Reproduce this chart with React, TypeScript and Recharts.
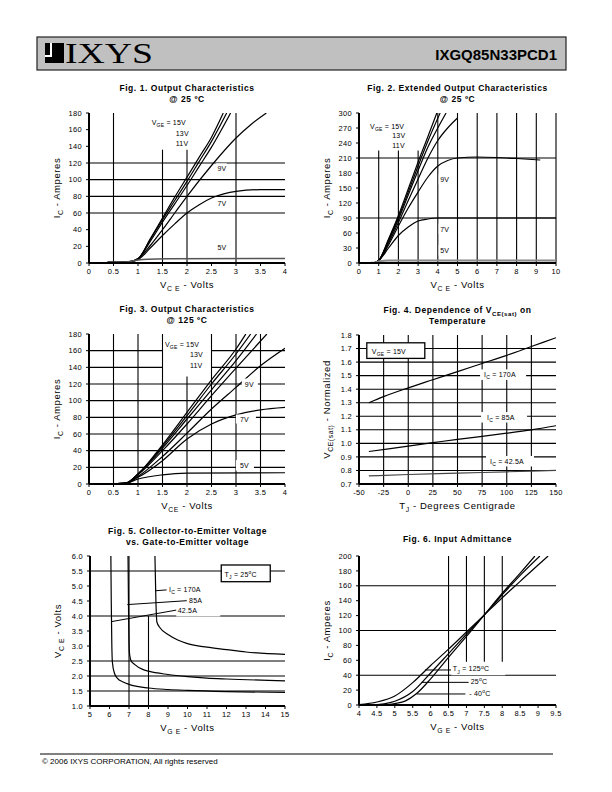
import React from "react";
import { LineChart, Line, XAxis, YAxis, ReferenceLine, ReferenceDot } from "recharts";

const FONT = "'Liberation Sans', Arial, Helvetica, sans-serif";

// ---- Fig. 1  Output characteristics @ 25 C ----
const f1X = [0, 0.5, 1, 1.5, 2, 2.5, 3, 3.5, 4];
const f1Y = [0, 20, 40, 60, 80, 100, 120, 140, 160, 180];
const f1_15V = [[0.38, 0.8], [0.8, 1.2], [1, 5], [1.25, 29], [1.5, 54], [1.75, 79], [2, 103], [2.25, 127], [2.5, 151], [2.74, 180]];
const f1_13V = [[0.38, 0.8], [0.8, 1.2], [1, 5], [1.25, 28], [1.5, 52], [1.75, 75], [2, 98], [2.25, 122], [2.5, 146], [2.81, 180]];
const f1_11V = [[0.38, 0.8], [0.8, 1.2], [1, 5], [1.25, 26], [1.5, 49], [1.75, 71], [2, 93], [2.25, 116], [2.5, 139], [2.89, 180]];
const f1_9V = [[0.38, 0.8], [0.8, 1.2], [1, 5], [1.25, 21], [1.5, 40], [1.75, 60], [2, 80], [2.5, 117], [3, 150], [3.3, 166], [3.62, 180]];
const f1_7V = [[0.38, 0.8], [0.8, 1.2], [1, 4], [1.25, 18], [1.5, 33], [1.75, 47], [2, 60], [2.25, 70], [2.5, 78], [2.75, 83], [3, 86], [3.5, 88], [4, 88]];
const f1_5V = [[0.38, 0.8], [0.8, 1.5], [1, 3.5], [1.2, 4.5], [1.6, 5], [4, 5.5]];

// ---- Fig. 2  Extended output characteristics @ 25 C ----
const f2X = [0, 1, 2, 3, 4, 5, 6, 7, 8, 9, 10];
const f2Y = [0, 30, 60, 90, 120, 150, 180, 210, 240, 270, 300];
const f2_15V = [[0.6, 0.5], [0.8, 1], [1, 5], [1.5, 48], [2, 95], [2.5, 148], [3, 202], [3.5, 253], [3.95, 300]];
const f2_13V = [[0.6, 0.5], [0.8, 1], [1, 5], [1.5, 46], [2, 91], [2.5, 142], [3, 194], [3.5, 244], [4.12, 300]];
const f2_11V = [[0.6, 0.5], [0.8, 1], [1, 5], [1.5, 44], [2, 87], [2.5, 136], [3, 185], [3.5, 232], [4, 270], [4.42, 300]];
const f2_10V = [[0.6, 0.5], [0.8, 1], [1, 5], [1.5, 40], [2, 81], [2.5, 125], [3, 168], [3.5, 210], [4, 245], [4.5, 270], [5, 290]];
const f2_9V = [[0.6, 0.5], [0.8, 1], [1, 5], [1.5, 36], [2, 74], [2.5, 110], [3, 142], [3.5, 172], [4, 194], [4.5, 205], [5, 210], [6, 212], [7, 211], [8, 209], [9.2, 206]];
const f2_7V = [[0.6, 0.5], [0.8, 1], [1, 5], [1.5, 30], [2, 55], [2.5, 72], [3, 84], [3.5, 88], [4, 90], [5, 90], [10, 90]];
const f2_5V = [[0.6, 0.5], [0.8, 1], [1, 3], [1.5, 5], [10, 5]];

// ---- Fig. 3  Output characteristics @ 125 C ----
const f3X = [0, 0.5, 1, 1.5, 2, 2.5, 3, 3.5, 4];
const f3Y = [0, 20, 40, 60, 80, 100, 120, 140, 160, 180];
const f3_15V = [[0.5, 0.3], [0.75, 1], [1, 12], [1.5, 47], [2, 86], [2.5, 125], [3, 162], [3.2, 180]];
const f3_13V = [[0.5, 0.3], [0.75, 1], [1, 12], [1.5, 45], [2, 82], [2.5, 120], [3, 156], [3.3, 180]];
const f3_11V = [[0.5, 0.3], [0.75, 1], [1, 12], [1.5, 43], [2, 78], [2.5, 113], [3, 148], [3.42, 180]];
const f3_10V = [[0.5, 0.3], [0.75, 1], [1, 11], [1.5, 40], [2, 72], [2.5, 106], [3, 139], [3.63, 180]];
const f3_9V = [[0.5, 0.3], [0.75, 1], [1, 9], [1.5, 33], [2, 61], [2.5, 90], [3, 116], [3.5, 142], [4, 163]];
const f3_7V = [[0.5, 0.3], [0.75, 1], [1, 8], [1.5, 28], [2, 54], [2.5, 72], [3, 83], [3.5, 89], [4, 92]];
const f3_5V = [[0.5, 0.3], [0.75, 1], [1, 6], [1.5, 11], [2, 13], [4, 13.5]];

// ---- Fig. 4  VCE(sat) vs temperature ----
const f4X = [-50, -25, 0, 25, 50, 75, 100, 125, 150];
const f4Y = [0.7, 0.8, 0.9, 1.0, 1.1, 1.2, 1.3, 1.4, 1.5, 1.6, 1.7, 1.8];
const f4_170A = [[-40, 1.3], [-25, 1.345], [0, 1.41], [25, 1.47], [50, 1.53], [75, 1.59], [100, 1.65], [125, 1.715], [150, 1.78]];
const f4_85A = [[-40, 0.94], [0, 0.98], [25, 1.005], [50, 1.03], [75, 1.052], [100, 1.075], [125, 1.1], [150, 1.13]];
const f4_42A = [[-40, 0.76], [0, 0.77], [50, 0.78], [100, 0.79], [150, 0.8]];

// ---- Fig. 5  VCE vs VGE ----
const f5X = [5, 6, 7, 8, 9, 10, 11, 12, 13, 14, 15];
const f5Y = [1, 1.5, 2, 2.5, 3, 3.5, 4, 4.5, 5, 5.5, 6];
const f5_42A = [[6.07, 6.0], [6.09, 4.5], [6.12, 3.0], [6.15, 2.45], [6.25, 2.1], [6.4, 1.93], [6.7, 1.8], [7, 1.72], [8, 1.6], [9, 1.55], [10, 1.52], [12, 1.48], [15, 1.45]];
const f5_85A = [[6.95, 6.0], [6.98, 4.0], [7.02, 2.8], [7.1, 2.52], [7.3, 2.38], [7.7, 2.22], [8, 2.16], [9, 2.05], [10, 1.98], [11, 1.93], [12, 1.9], [15, 1.84]];
const f5_170A = [[8.33, 6.0], [8.38, 4.5], [8.43, 3.8], [8.6, 3.6], [9, 3.38], [9.5, 3.2], [10, 3.08], [11, 2.96], [12, 2.88], [13, 2.8], [15, 2.72]];

// ---- Fig. 6  Input admittance ----
const f6X = [4, 4.5, 5, 5.5, 6, 6.5, 7, 7.5, 8, 8.5, 9, 9.5];
const f6Y = [0, 20, 40, 60, 80, 100, 120, 140, 160, 180, 200];
const f6_125C = [[4, 0.5], [4.5, 4], [5, 12], [5.5, 30], [6, 53], [6.5, 75], [7, 98], [7.5, 121], [8, 144], [8.5, 166], [9, 188], [9.28, 200]];
const f6_25C = [[4.4, 0], [4.7, 1.5], [5, 5], [5.5, 18], [6, 43], [6.5, 69], [7, 95], [7.5, 121], [8, 148], [8.5, 174], [9.05, 200]];
const f6_m40C = [[4.7, 0], [5, 2], [5.3, 5.5], [5.6, 15], [6, 35], [6.5, 64], [7, 92], [7.5, 121], [8, 150], [8.5, 177], [8.91, 200]];

// grid segments [x1, y1, x2, y2] (the datasheet grids are partial)
const f1Grid = [[0.5, 0, 0.5, 180], [1.5, 0, 1.5, 136], [2, 0, 2, 136], [3, 0, 3, 180], [0, 60, 4, 60], [0, 80, 4, 80], [0, 100, 4, 100], [0, 120, 4, 120]];
const f2Grid = [[1, 0, 1, 225], [2, 0, 2, 225], [3, 0, 3, 225], [4, 0, 4, 300], [5, 0, 5, 300], [6, 0, 6, 300], [7, 0, 7, 300], [8, 0, 8, 300], [9, 0, 9, 300], [10, 0, 10, 300], [0, 90, 10, 90], [0, 210, 10, 210]];
const f3Grid = [[0.5, 0, 0.5, 180], [1, 0, 1, 180], [1.5, 0, 1.5, 180], [2, 0, 2, 129], [2.5, 0, 2.5, 180], [3, 0, 3, 180], [3.5, 0, 3.5, 180],
  [0, 20, 4, 20], [0, 40, 4, 40], [0, 60, 4, 60], [0, 80, 4, 80], [0, 100, 4, 100], [0, 120, 4, 120],
  [0, 140, 1.5, 140], [2.5, 140, 4, 140], [0, 160, 1.5, 160], [2.5, 160, 4, 160]];
const f4Grid = [[-25, 0.7, -25, 1.8], [0, 0.7, 0, 1.8], [25, 0.7, 25, 1.8], [50, 0.7, 50, 1.8], [75, 0.7, 75, 1.8], [100, 0.7, 100, 1.8], [125, 0.7, 125, 1.8],
  [-50, 0.8, 150, 0.8], [-50, 0.9, 150, 0.9], [-50, 1.0, 150, 1.0], [-50, 1.1, 150, 1.1], [-50, 1.2, 150, 1.2], [-50, 1.3, 150, 1.3],
  [-50, 1.4, 150, 1.4], [-50, 1.5, 150, 1.5], [-50, 1.6, 150, 1.6], [-50, 1.7, 150, 1.7]];
const f5Grid = [[7, 1, 7, 6], [8, 1, 8, 4], [5, 1.5, 15, 1.5], [5, 2, 15, 2], [5, 2.5, 15, 2.5], [5, 4, 15, 4], [5, 5.5, 15, 5.5]];
const f6Grid = [[6.5, 0, 6.5, 200], [7, 58, 7, 200], [7.5, 58, 7.5, 200], [8, 58, 8, 200], [4, 40, 9.5, 40], [4, 100, 9.5, 100], [4, 160, 9.5, 160]];

// leader lines
const f5Leaders = [[8.33, 4.84, 8.93, 4.87], [6.91, 4.38, 9.96, 4.51], [6.08, 3.81, 9.45, 4.2]];
const f6Leaders = [[5.84, 47, 6.57, 47], [5.74, 30.4, 7.06, 30.4], [5.61, 14.8, 6.97, 14.8]];

type Note = { x: number; y: number; t: string; boxed?: boolean; padL?: number; boxW?: number; boxTop?: number; boxH?: number };

const f1Notes: Note[] = [
  { x: 1.28, y: 166, t: "V_{GE} = 15V" }, { x: 1.77, y: 153, t: "13V" }, { x: 1.77, y: 141, t: "11V" },
  { x: 2.62, y: 110, t: "9V" }, { x: 2.62, y: 68, t: "7V" }, { x: 2.62, y: 16, t: "5V" },
];
const f2Notes: Note[] = [
  { x: 0.56, y: 269, t: "V_{GE} = 15V" }, { x: 1.69, y: 250, t: "13V" }, { x: 1.69, y: 231, t: "11V" },
  { x: 4.12, y: 162, t: "9V" }, { x: 4.12, y: 63, t: "7V" }, { x: 4.12, y: 20, t: "5V" },
];
const f3Notes: Note[] = [
  { x: 1.55, y: 164, t: "V_{GE} = 15V" }, { x: 2.06, y: 152, t: "13V" }, { x: 2.06, y: 139, t: "11V" },
  { x: 3.18, y: 117, t: "9V", padL: 3, boxW: 16 }, { x: 3.08, y: 75, t: "7V", padL: 4, boxW: 20, boxTop: 7, boxH: 9 }, { x: 3.08, y: 19, t: "5V", padL: 4, boxW: 18 },
];
const f4Notes: Note[] = [
  { x: -37, y: 1.659, t: "V_{GE} = 15V", boxed: true, padL: 5, boxW: 58, boxTop: 11.3, boxH: 15.6 },
  { x: 77, y: 1.487, t: "I_{C} = 170A", padL: 4, boxW: 46 }, { x: 80, y: 1.172, t: "I_{C} = 85A", padL: 6, boxW: 46 }, { x: 83, y: 0.848, t: "I_{C} = 42.5A", padL: 4, boxW: 48 },
];
const f5Notes: Note[] = [
  { x: 11.9, y: 5.31, t: "T_{J} = 25^{o}C", boxed: true, padL: 3.3, boxW: 49, boxTop: 11.7, boxH: 16.7 },
  { x: 9.05, y: 4.79, t: "I_{C} = 170A" }, { x: 10.08, y: 4.44, t: "85A" }, { x: 9.5, y: 4.11, t: "42.5A", boxW: 44, boxH: 13 },
];
const f6Notes: Note[] = [
  { x: 6.62, y: 45, t: "T_{J} = 125^{o}C", boxW: 54, boxH: 13 }, { x: 7.12, y: 28, t: "25^{o}C" }, { x: 7.08, y: 12, t: "- 40^{o}C" },
];

const pts = (a: number[][]) => a.map(([x, y]) => ({ x, y }));

function richParts(s: string) {
  const out: { t: string; k: string }[] = [];
  const re = /([_^])\{([^}]*)\}/g;
  let last = 0;
  let m: RegExpExecArray | null;
  while ((m = re.exec(s))) {
    if (m.index > last) out.push({ t: s.slice(last, m.index), k: "n" });
    out.push({ t: m[2], k: m[1] === "_" ? "sub" : "sup" });
    last = re.lastIndex;
  }
  if (last < s.length) out.push({ t: s.slice(last), k: "n" });
  return out;
}

function textWidth(s: string, size: number) {
  return richParts(s).reduce((w, p) => w + p.t.length * size * (p.k === "n" ? 0.56 : 0.42), 0);
}

function SvgRich({ s, x, y, size, anchor = "start", weight = "normal", transform, spacing = 0 }: any) {
  let cur = 0;
  return (
    <text x={x} y={y} fontSize={size} fontFamily={FONT} textAnchor={anchor} fontWeight={weight} fill="#000"
      transform={transform} letterSpacing={spacing}>
      {richParts(s).map((p, i) => {
        const target = p.k === "sub" ? size * 0.3 : p.k === "sup" ? -size * 0.4 : 0;
        const dy = target - cur;
        cur = target;
        return (
          <tspan key={i} dy={dy} fontSize={p.k === "n" ? size : size * 0.72}>
            {p.t}
          </tspan>
        );
      })}
    </text>
  );
}

function NoteShape({ cx, cy, n }: { cx: number; cy: number; n: Note }) {
  const size = 7;
  const padL = n.padL ?? 1.5;
  const w = n.boxW ?? textWidth(n.t, size) + 3;
  const h = n.boxH ?? size + 3.5;
  const top = n.boxTop ?? (size + 1 + (h - size - 3.5) / 2);
  return (
    <g>
      <rect x={cx - padL} y={cy - top} width={w} height={h} fill="#fff" stroke={n.boxed ? "#000" : "none"} strokeWidth={1.3} />
      <SvgRich s={n.t} x={cx} y={cy} size={size} spacing={0.2} />
    </g>
  );
}

type Series = { name: string; data: number[][]; color?: string; width?: number };

type PlotCfg = {
  left: number; top: number; plotW: number; plotH: number;
  xDomain: [number, number]; yDomain: [number, number];
  xTicks: number[]; yTicks: number[]; yFmt?: (v: number) => string;
  series: Series[]; grid: number[][]; leaders?: number[][]; notes: Note[];
  title: string[]; xTitle: string; yTitle: string;
};

const ML = 55;
const MT = 12;
const MR = 20;
const XH = 30;

function Plot({ c }: { c: PlotCfg }) {
  const width = c.plotW + ML + MR;
  const height = c.plotH + MT + XH;
  const tick = { fontSize: 7.5, fill: "#000", fontFamily: FONT, letterSpacing: 0.3 };
  const axisLine = { stroke: "#000", strokeWidth: 2 };
  const cx = ML + c.plotW / 2;
  const margin = { top: MT, right: MR, bottom: 0, left: ML - 30 };
  const layer = { position: "absolute" as const, left: 0, top: 0 };
  return (
    <div style={{ position: "absolute", left: c.left - ML, top: c.top - MT, width, height }}>
      <div style={layer}>
        <LineChart width={width} height={height} margin={margin}>
          <XAxis type="number" dataKey="x" domain={c.xDomain} ticks={c.xTicks} interval={0} allowDataOverflow
            height={XH} tick={tick} tickSize={3} tickMargin={3} axisLine={axisLine} tickLine={{ stroke: "#000" }} />
          <YAxis type="number" dataKey="y" domain={c.yDomain} ticks={c.yTicks} interval={0} allowDataOverflow
            width={30} tick={tick} tickSize={3} tickMargin={4} axisLine={axisLine} tickLine={{ stroke: "#000" }}
            tickFormatter={c.yFmt} />
          {c.grid.map((g, i) => (
            <ReferenceLine key={"g" + i} segment={[{ x: g[0], y: g[1] }, { x: g[2], y: g[3] }]} stroke="#000" strokeWidth={1.1} ifOverflow="visible" />
          ))}
          {c.series.map((s) => (
            <Line key={s.name} name={s.name} data={pts(s.data)} dataKey="y" type="monotone" dot={false} activeDot={false}
              stroke={s.color ?? "#000"} strokeWidth={s.width ?? 1.2} isAnimationActive={false} />
          ))}
        </LineChart>
      </div>
      {/* annotation layer: same axes, drawn on top so the white label boxes hide the grid */}
      <div style={layer}>
        <LineChart width={width} height={height} margin={margin}>
          <XAxis type="number" dataKey="x" domain={c.xDomain} ticks={c.xTicks} allowDataOverflow height={XH} tick={false} tickLine={false} axisLine={false} />
          <YAxis type="number" dataKey="y" domain={c.yDomain} ticks={c.yTicks} allowDataOverflow width={30} tick={false} tickLine={false} axisLine={false} />
          {c.notes.map((n, i) => (
            <ReferenceDot key={"n" + i} x={n.x} y={n.y} r={0} ifOverflow="visible"
              shape={(p: any) => <NoteShape cx={p.cx} cy={p.cy} n={n} />} />
          ))}
          {(c.leaders ?? []).map((g, i) => (
            <ReferenceLine key={"l" + i} segment={[{ x: g[0], y: g[1] }, { x: g[2], y: g[3] }]} stroke="#000" strokeWidth={1} ifOverflow="visible" />
          ))}
        </LineChart>
      </div>
      <svg width={width} height={height} style={{ ...layer, overflow: "visible", pointerEvents: "none" }}>
        {c.title.map((t, i) => (
          <SvgRich key={i} s={t} x={cx} y={c.title.length === 1 ? MT - 14 : MT - 22 + i * 11} size={8.5} anchor="middle" weight="bold" spacing={0.55} />
        ))}
        <SvgRich s={c.xTitle} x={cx} y={MT + c.plotH + 25} size={9.5} anchor="middle" spacing={0.6} />
        <SvgRich s={c.yTitle} x={0} y={0} size={9.5} anchor="middle" spacing={0.6}
          transform={`translate(${ML - 29},${MT + c.plotH / 2}) rotate(-90)`} />
      </svg>
    </div>
  );
}

const one = (v: number) => v.toFixed(1);

const plots: PlotCfg[] = [
  {
    left: 89, top: 113, plotW: 196, plotH: 150, xDomain: [0, 4], yDomain: [0, 180], xTicks: f1X, yTicks: f1Y,
    series: [{ name: "15V", data: f1_15V }, { name: "13V", data: f1_13V }, { name: "11V", data: f1_11V }, { name: "9V", data: f1_9V }, { name: "7V", data: f1_7V }, { name: "5V", data: f1_5V, color: "#555", width: 1.5 }],
    grid: f1Grid, notes: f1Notes, title: ["Fig. 1. Output Characteristics", "@ 25 ºC"], xTitle: "V_{C E} - Volts", yTitle: "I_{C} - Amperes",
  },
  {
    left: 359, top: 113, plotW: 197, plotH: 150, xDomain: [0, 10], yDomain: [0, 300], xTicks: f2X, yTicks: f2Y,
    series: [{ name: "15V", data: f2_15V }, { name: "13V", data: f2_13V }, { name: "11V", data: f2_11V }, { name: "10V", data: f2_10V }, { name: "9V", data: f2_9V }, { name: "7V", data: f2_7V }, { name: "5V", data: f2_5V, color: "#888", width: 2.2 }],
    grid: f2Grid, notes: f2Notes, title: ["Fig. 2. Extended Output Characteristics", "@ 25 ºC"], xTitle: "V_{C E} - Volts", yTitle: "I_{C} - Amperes",
  },
  {
    left: 89, top: 334, plotW: 196, plotH: 150, xDomain: [0, 4], yDomain: [0, 180], xTicks: f3X, yTicks: f3Y,
    series: [{ name: "15V", data: f3_15V }, { name: "13V", data: f3_13V }, { name: "11V", data: f3_11V }, { name: "10V", data: f3_10V }, { name: "9V", data: f3_9V }, { name: "7V", data: f3_7V }, { name: "5V", data: f3_5V }],
    grid: f3Grid, notes: f3Notes, title: ["Fig. 3. Output Characteristics", "@ 125 ºC"], xTitle: "V_{CE} - Volts", yTitle: "I_{C} - Amperes",
  },
  {
    left: 359, top: 335, plotW: 197, plotH: 149, xDomain: [-50, 150], yDomain: [0.7, 1.8], xTicks: f4X, yTicks: f4Y, yFmt: one,
    series: [{ name: "170A", data: f4_170A }, { name: "85A", data: f4_85A }, { name: "42.5A", data: f4_42A, color: "#444" }],
    grid: f4Grid, notes: f4Notes, title: ["Fig. 4. Dependence of V_{CE(sat)} on", "Temperature"], xTitle: "T_{J} - Degrees Centigrade", yTitle: "V_{CE(sat)} - Normalized",
  },
  {
    left: 90, top: 556, plotW: 195, plotH: 150, xDomain: [5, 15], yDomain: [1, 6], xTicks: f5X, yTicks: f5Y, yFmt: one,
    series: [{ name: "42.5A", data: f5_42A }, { name: "85A", data: f5_85A }, { name: "170A", data: f5_170A }],
    grid: f5Grid, leaders: f5Leaders, notes: f5Notes, title: ["Fig. 5. Collector-to-Emitter Voltage", "vs. Gate-to-Emitter voltage"], xTitle: "V_{G E} - Volts", yTitle: "V_{C E} - Volts",
  },
  {
    left: 359, top: 556, plotW: 197, plotH: 149, xDomain: [4, 9.5], yDomain: [0, 200], xTicks: f6X, yTicks: f6Y,
    series: [{ name: "125C", data: f6_125C }, { name: "25C", data: f6_25C }, { name: "-40C", data: f6_m40C }],
    grid: f6Grid, leaders: f6Leaders, notes: f6Notes, title: ["Fig. 6. Input Admittance"], xTitle: "V_{G E} - Volts", yTitle: "I_{C} - Amperes",
  },
];

export default function App() {
  return (
    <div style={{ position: "absolute", left: 0, top: 0, width: 612, height: 792, background: "#fff", overflow: "hidden" }}>
      <svg width={612} height={792} style={{ position: "absolute", left: 0, top: 0 }}>
        <rect x={37} y={37} width={529} height={33} fill="#c0c0c0" stroke="#222" strokeWidth={1.2} />
        <rect x={45} y={43} width={19} height={20} fill="#000" />
        <rect x={50} y={43} width={2} height={14} fill="#fff" />
        <rect x={45} y={55} width={7} height={2} fill="#fff" />
        <text x={65} y={63} fontFamily="'Liberation Serif', 'DejaVu Serif', serif" fontSize={29} textLength={88} lengthAdjust="spacingAndGlyphs">IXYS</text>
        <text x={557} y={60} fontFamily={FONT} fontSize={15} fontWeight="bold" textAnchor="end">IXGQ85N33PCD1</text>
        <line x1={40} y1={754} x2={553} y2={754} stroke="#000" strokeWidth={1} />
        <text x={42} y={764} fontFamily={FONT} fontSize={8}>© 2006 IXYS CORPORATION, All rights reserved</text>
      </svg>
      {plots.map((c, i) => (
        <Plot key={i} c={c} />
      ))}
    </div>
  );
}
